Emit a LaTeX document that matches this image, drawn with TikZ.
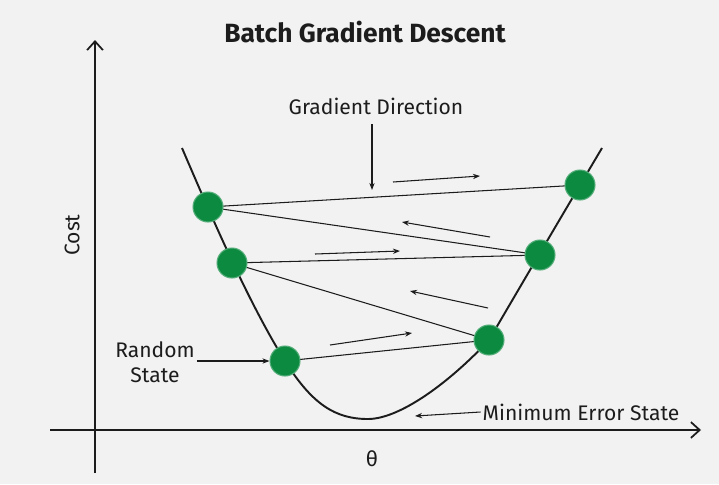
\documentclass[tikz,border=0pt]{standalone}
\usepackage{fontspec}
\setmainfont{Fira Sans}
\usepackage{xcolor}
\definecolor{gdback}{HTML}{F2F2F2}
\definecolor{gdgreen}{HTML}{0C8A40}
\definecolor{gdink}{HTML}{1C1C1C}
\usepackage{tikz}
\usetikzlibrary{
  arrows.meta,
  positioning,
  backgrounds,
}

\begin{document}
\begin{tikzpicture}[
  x=0.02cm, y=-0.02cm,
  state/.style={
    circle, fill=gdgreen, draw=gdgreen!70!white, line width=0.6pt,
    minimum size=0.6cm, inner sep=0pt,
  },
  label/.style={
    font=\fontsize{12}{14}\selectfont, text=gdink, align=center, inner sep=1pt,
  },
  axis/.style={
    -{Straight Barb[length=5pt,width=9pt]}, line width=1pt, color=gdink,
  },
  connector/.style={
    -{Stealth[length=4pt,width=3pt]}, line width=0.6pt, color=gdink,
  },
  jump/.style={
    line width=0.6pt, color=gdink,
  },
]
  \useasboundingbox (0,0) rectangle (719,484);

  % --- title ---
  \node[font=\fontsize{15}{18}\selectfont\bfseries,text=gdink] (title) at (365,32) {Batch Gradient Descent};

  % --- axes ---
  \coordinate (y-end)   at (95,40);
  \coordinate (y-start) at (95,473);
  \coordinate (x-start) at (50,430);
  \coordinate (x-end)   at (701,430);
  \draw[axis] (y-start) -- (y-end);
  \draw[axis] (x-start) -- (x-end);
  \node[label, rotate=90] (cost)  at (72,235) {Cost};
  \node[label] (theta) at (372,459) {θ};

  % --- cost curve ---
  \draw[line width=1.1pt, color=gdink]
    (182,148) .. controls (215,225) and (250,305) .. (285,361)
              .. controls (312,404) and (335,419) .. (368,419)
              .. controls (400,419) and (450,382) .. (489,340)
              .. controls (527,275) and (564,212) .. (602,148);

  % --- states ---
  \node[state] (s1) at (285,361) {};
  \node[state] (s2) at (489,340) {};
  \node[state] (s3) at (232,263) {};
  \node[state] (s4) at (540,255) {};
  \node[state] (s5) at (208,207) {};
  \node[state] (s6) at (580,185) {};

  % --- jumps between states ---
  \begin{scope}[on background layer]
    \fill[gdback] (0,0) rectangle (719,484);
    \draw[jump] (s1.center) -- (s2.center);
    \draw[jump] (s2.center) -- (s3.center);
    \draw[jump] (s3.center) -- (s4.center);
    \draw[jump] (s4.center) -- (s5.center);
    \draw[jump] (s5.center) -- (s6.center);
  \end{scope}

  % --- gradient direction arrows ---
  \coordinate (d1a) at (330,345); \coordinate (d1b) at (412,333);
  \coordinate (d2a) at (488,308); \coordinate (d2b) at (410,291);
  \coordinate (d3a) at (315,254); \coordinate (d3b) at (400,251);
  \coordinate (d4a) at (490,237); \coordinate (d4b) at (402,222);
  \coordinate (d5a) at (393,182); \coordinate (d5b) at (480,176);
  \draw[connector] (d1a) -- (d1b);
  \draw[connector] (d2a) -- (d2b);
  \draw[connector] (d3a) -- (d3b);
  \draw[connector] (d4a) -- (d4b);
  \draw[connector] (d5a) -- (d5b);

  % --- labels ---
  \node[label] (grad) at (376,106) {Gradient Direction};
  \coordinate (grad-tip) at (372,190);
  \draw[connector] (grad.south -| grad-tip) ++(0,8) -- (grad-tip);

  \node[label] (random) at (155,362) {Random\\State};
  \draw[connector] (random.east |- s1) -- (s1);

  \node[label] (minimum) at (581,412) {Minimum Error State};
  \coordinate (min-tip) at (415,416);
  \draw[connector] (minimum.west) -- (min-tip);
\end{tikzpicture}
\end{document}
